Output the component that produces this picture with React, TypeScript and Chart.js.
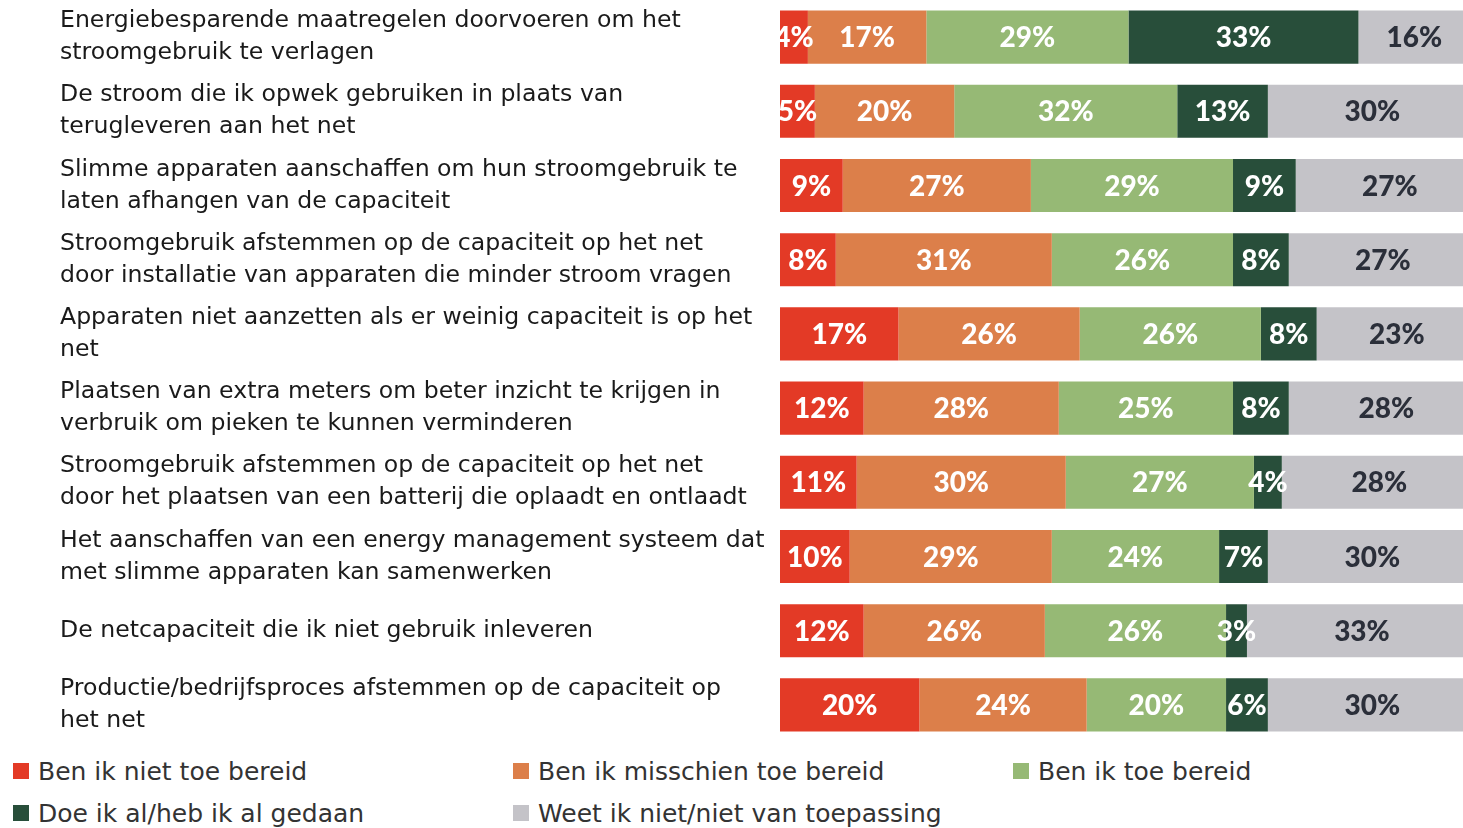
import React, { useEffect, useRef } from "react";
import { Chart, registerables } from "chart.js";

Chart.register(...registerables);

const categories: string[][] = [
  ["Energiebesparende maatregelen doorvoeren om het", "stroomgebruik te verlagen"],
  ["De stroom die ik opwek gebruiken in plaats van", "terugleveren aan het net"],
  ["Slimme apparaten aanschaffen om hun stroomgebruik te", "laten afhangen van de capaciteit"],
  ["Stroomgebruik afstemmen op de capaciteit op het net", "door installatie van apparaten die minder stroom vragen"],
  ["Apparaten niet aanzetten als er weinig capaciteit is op het", "net"],
  ["Plaatsen van extra meters om beter inzicht te krijgen in", "verbruik om pieken te kunnen verminderen"],
  ["Stroomgebruik afstemmen op de capaciteit op het net", "door het plaatsen van een batterij die oplaadt en ontlaadt"],
  ["Het aanschaffen van een energy management systeem dat", "met slimme apparaten kan samenwerken"],
  ["De netcapaciteit die ik niet gebruik inleveren"],
  ["Productie/bedrijfsproces afstemmen op de capaciteit op", "het net"],
];

const seriesNames = [
  "Ben ik niet toe bereid",
  "Ben ik misschien toe bereid",
  "Ben ik toe bereid",
  "Doe ik al/heb ik al gedaan",
  "Weet ik niet/niet van toepassing",
];

const nietBereid = [4, 5, 9, 8, 17, 12, 11, 10, 12, 20];
const misschienBereid = [17, 20, 27, 31, 26, 28, 30, 29, 26, 24];
const welBereid = [29, 32, 29, 26, 26, 25, 27, 24, 26, 20];
const alGedaan = [33, 13, 9, 8, 8, 8, 4, 7, 3, 6];
const weetNiet = [16, 30, 27, 27, 23, 28, 28, 30, 33, 30];

const seriesValues = [nietBereid, misschienBereid, welBereid, alGedaan, weetNiet];
const seriesColors = ["#E33A26", "#DC7F4A", "#96B975", "#284E3A", "#C4C3C8"];
const labelColors = ["#FFFFFF", "#FFFFFF", "#FFFFFF", "#FFFFFF", "#2B2F3A"];

const TEXT_FONT = "'DejaVu Sans', sans-serif";
const VALUE_FONT = "Lato, 'Open Sans', sans-serif";

const valueLabelPlugin = {
  id: "valueLabels",
  afterDatasetsDraw(chart: any) {
    const ctx = chart.ctx;
    const xScale = chart.scales.x;
    const yScale = chart.scales.y;
    ctx.save();
    ctx.font = `900 28px ${VALUE_FONT}`;
    ctx.textAlign = "center";
    ctx.textBaseline = "middle";
    categories.forEach((_, i) => {
      let cum = 0;
      seriesValues.forEach((vals, s) => {
        const v = vals[i];
        const cx = xScale.getPixelForValue(cum + v / 2);
        const cy = yScale.getPixelForValue(i);
        cum += v;
        ctx.fillStyle = labelColors[s];
        ctx.fillText(`${v}%`, cx, cy + 1);
      });
    });
    ctx.restore();
  },
};

export default function App() {
  const canvasRef = useRef<HTMLCanvasElement | null>(null);

  useEffect(() => {
    document.body.style.margin = "0";
    document.body.style.overflow = "hidden";
    const canvas = canvasRef.current;
    if (!canvas) return;
    const chart = new Chart(canvas, {
      type: "bar",
      data: {
        labels: categories,
        datasets: seriesValues.map((vals, s) => ({
          label: seriesNames[s],
          data: vals,
          backgroundColor: seriesColors[s],
          borderWidth: 0,
          categoryPercentage: 1,
          barPercentage: 0.715,
        })),
      },
      options: {
        indexAxis: "y",
        responsive: false,
        animation: false,
        layout: { padding: { left: 60, right: 0, top: 0, bottom: 0 } },
        plugins: {
          legend: { display: false },
          tooltip: { enabled: false },
        },
        scales: {
          x: {
            stacked: true,
            display: false,
            min: 0,
            max: 98,
          },
          y: {
            stacked: true,
            grid: { display: false, drawTicks: false },
            border: { display: false },
            afterFit(scale: any) {
              scale.width = 720;
              scale.paddingTop = 0;
              scale.paddingBottom = 0;
            },
            ticks: {
              crossAlign: "far",
              padding: 0,
              color: "#1A1A1A",
              font: { family: TEXT_FONT, size: 23.6, lineHeight: 1.356 },
            },
          },
        },
      },
      plugins: [valueLabelPlugin],
    });
    return () => chart.destroy();
  }, []);

  return (
    <div style={{ position: "relative", width: 1463, height: 828, overflow: "hidden", background: "#fff" }}>
      <canvas ref={canvasRef} width={1463} height={742} style={{ display: "block" }} />
      <div
        style={{
          position: "absolute",
          left: 13,
          top: 750,
          display: "grid",
          gridTemplateColumns: "500px 500px 500px",
          gridAutoRows: "42px",
          fontFamily: TEXT_FONT,
          fontSize: 25,
          color: "#333333",
        }}
      >
        {seriesNames.map((name, s) => (
          <div key={name} style={{ display: "flex", alignItems: "center", whiteSpace: "nowrap" }}>
            <span
              style={{
                display: "inline-block",
                width: 16,
                height: 16,
                background: seriesColors[s],
                marginRight: 9,
              }}
            />
            <span>{name}</span>
          </div>
        ))}
      </div>
    </div>
  );
}
